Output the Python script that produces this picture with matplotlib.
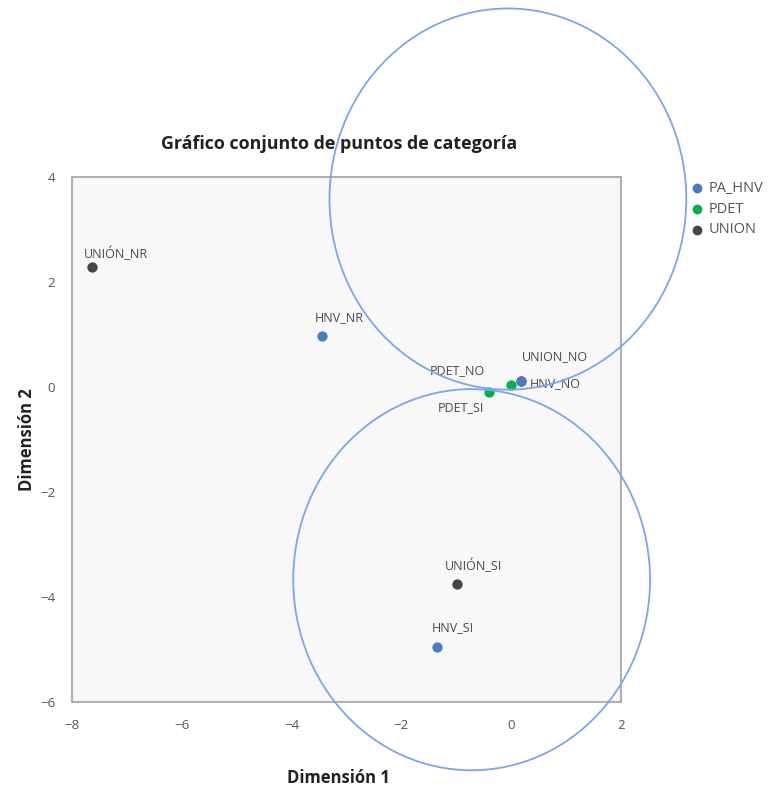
import matplotlib
matplotlib.use("Agg")
import matplotlib.pyplot as plt
import matplotlib.patches as patches

# puntos de categoria por variable
hnv_x = [-3.45, 0.17, -1.36]
hnv_y = [0.98, 0.11, -4.95]
hnv_lab = ["HNV_NR", "HNV_NO", "HNV_SI"]

pdet_x = [0.0, -0.40]
pdet_y = [0.03, -0.09]
pdet_lab = ["PDET_NO", "PDET_SI"]

union_x = [-7.63, 0.17, -0.99]
union_y = [2.28, 0.12, -3.75]
union_lab = ["UNIÓN_NR", "UNION_NO", "UNIÓN_SI"]

series = ["PA_HNV", "PDET", "UNION"]

# circulos dibujados encima (centro x, centro y, ancho, alto)
circ_cx = [-0.06, -0.72]
circ_cy = [3.58, -3.67]
circ_w = [6.5, 6.5]
circ_h = [7.26, 7.26]

colores = {"PA_HNV": "#4a7cc0", "PDET": "#00b04f", "UNION": "#454545"}

# desplazamiento de etiquetas en pixeles: (dx, dy, ha)
despl = {
    "UNIÓN_NR": (-8, 13, "left"),
    "HNV_NR": (-7, 18, "left"),
    "UNION_NO": (1, 24, "left"),
    "HNV_NO": (9, -2, "left"),
    "PDET_NO": (-26, 15, "right"),
    "PDET_SI": (-5, -16, "right"),
    "UNIÓN_SI": (-12, 18, "left"),
    "HNV_SI": (-5, 19, "left"),
}

plt.rcParams['font.family'] = ['Open Sans', 'DejaVu Sans']

fig = plt.figure(figsize=(7.71, 7.92), dpi=100)
ax = fig.add_axes([0.0934, 0.1136, 0.712, 0.6629])
ax.set_facecolor("#f8f8f8")

datos = [
    ("PA_HNV", hnv_x, hnv_y, hnv_lab),
    ("PDET", pdet_x, pdet_y, pdet_lab),
    ("UNION", union_x, union_y, union_lab),
]

# UNION primero para que quede debajo de HNV_NO
orden = [2, 0, 1]
for i in orden:
    nombre, xs, ys, labs = datos[i]
    ax.scatter(xs, ys, s=55, color=colores[nombre], zorder=3, label=nombre,
               linewidths=0)
    for x, y, t in zip(xs, ys, labs):
        dx, dy, ha = despl[t]
        ax.annotate(t, (x, y), xytext=(dx, dy), textcoords="offset pixels",
                    ha=ha, va="center", fontsize=9, color="#4a4a4a")

for cx, cy, w, h in zip(circ_cx, circ_cy, circ_w, circ_h):
    e = patches.Ellipse((cx, cy), w, h, fill=False, edgecolor="#7ba7e8",
                        linewidth=1.3, clip_on=False, zorder=4)
    ax.add_patch(e)

ax.set_xlim(-8, 2)
ax.set_ylim(-6, 4)
ax.set_xticks([-8, -6, -4, -2, 0, 2])
ax.set_yticks([-6, -4, -2, 0, 2, 4])
ax.tick_params(length=0, labelsize=9.5, labelcolor="#555555", pad=12)
for s in ax.spines.values():
    s.set_color("#b0b0b0")
    s.set_linewidth(1.5)

ax.set_title("Gráfico conjunto de puntos de categoría", fontsize=12.9,
             fontweight="bold", color="#222222", pad=20, x=0.486)
ax.set_xlabel("Dimensión 1", fontsize=12, fontweight="bold", color="#222222")
ax.set_ylabel("Dimensión 2", fontsize=12, fontweight="bold", color="#222222")
ax.xaxis.set_label_coords(0.486, -0.128)
ax.yaxis.set_label_coords(-0.066, 0.5)

h, l = ax.get_legend_handles_labels()
mapa = dict(zip(l, h))
ax.legend([mapa[s] for s in series], series, loc="upper left",
          bbox_to_anchor=(1.101, 1.018), frameon=False, fontsize=10.5,
          handlelength=1.0, handletextpad=0.3, labelspacing=0.4,
          markerscale=0.95, labelcolor="#555555")

plt.savefig("out.png", dpi=100)
plt.close()
